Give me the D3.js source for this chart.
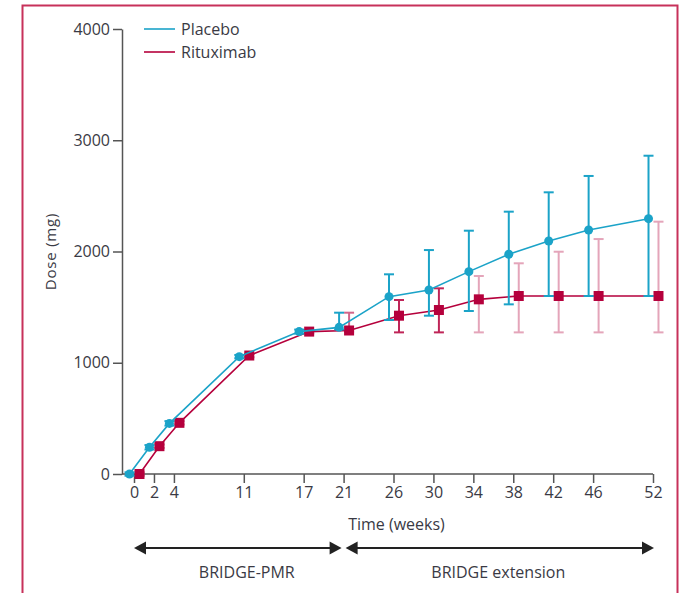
<!DOCTYPE html>
<html>
<head>
<meta charset="utf-8">
<script src="https://cdn.jsdelivr.net/npm/d3@7"></script>
<style>
  body { margin: 0; background: #fff; }
  text { font-family: "Open Sans", "DejaVu Sans", sans-serif; fill: #3a3a44; }
</style>
</head>
<body>
<svg id="viz"></svg>
<script>
let width = 681;
let height = 593;

// data
let weeks = [0, 2, 4, 11, 17, 21, 26, 30, 34, 38, 42, 46, 52];
let placeboMean = [0, 240, 455, 1055, 1280, 1318, 1594, 1654, 1819, 1975, 2094, 2193, 2295];
let placeboLow = [-15, 220, 435, 1040, 1262, 1300, 1384, 1423, 1465, 1525, 1600, 1600, 1600];
let placeboHigh = [15, 260, 475, 1070, 1298, 1450, 1795, 2013, 2187, 2358, 2532, 2679, 2861];
let rituxMean = [0, 250, 460, 1065, 1280, 1290, 1423, 1474, 1570, 1600, 1600, 1600, 1600];
let rituxLow = [-15, 235, 445, 1050, 1265, 1280, 1273, 1273, 1273, 1273, 1273, 1273, 1273];
let rituxHigh = [15, 265, 475, 1080, 1295, 1450, 1564, 1669, 1780, 1894, 1998, 2112, 2268];
let yTicks = [0, 1000, 2000, 3000, 4000];
let seriesNames = ["Placebo", "Rituximab"];
let periodNames = ["BRIDGE-PMR", "BRIDGE extension"];
let periodStart = [0, 21];
let periodEnd = [21, 52];
let periodLabelAt = [11.3, 36.5];

let blue = "#1ba3c8";
let red = "#b5003c";
let fontSize = "16px";

let svg = d3.select("#viz")
    .attr("width", width)
    .attr("height", height);

// frame
svg.append("rect")
    .attr("x", 22.5).attr("y", 5.5)
    .attr("width", 655).attr("height", 620)
    .attr("fill", "none")
    .attr("stroke", "#c7315a")
    .attr("stroke-width", 2);

let x = d3.scaleLinear().domain([0, 52]).range([134, 653]);
let y = d3.scaleLinear().domain([0, 4000]).range([474, 29]);
let axisX = 122;

// y axis
let yAxis = svg.append("g")
    .attr("transform", "translate(" + axisX + ",0)")
    .call(d3.axisLeft(y).tickValues(yTicks).tickFormat(d3.format("d"))
        .tickSize(9).tickPadding(3).tickSizeOuter(0));
yAxis.select(".domain").attr("stroke", "#555").attr("stroke-width", 1.5);
yAxis.selectAll(".tick line").attr("stroke", "#555").attr("stroke-width", 1.5);
yAxis.selectAll("text").style("font-size", fontSize).attr("fill", "#3a3a44");

// x axis
let xAxis = svg.append("g")
    .attr("transform", "translate(0," + y(0) + ")")
    .call(d3.axisBottom(x).tickValues(weeks).tickSize(9).tickPadding(4).tickSizeOuter(0));
xAxis.select(".domain")
    .attr("d", "M" + axisX + ",0H" + x(52))
    .attr("stroke", "#555").attr("stroke-width", 1.5);
xAxis.selectAll(".tick line").attr("stroke", "#555").attr("stroke-width", 1.5);
xAxis.selectAll("text").style("font-size", fontSize).attr("fill", "#3a3a44");

svg.append("text")
    .attr("x", (x(21) + x(30)) / 2 + 8)
    .attr("y", 530)
    .attr("text-anchor", "middle")
    .style("font-size", fontSize)
    .text("Time (weeks)");

svg.append("text")
    .attr("transform", "translate(56," + y(2000) + ") rotate(-90)")
    .attr("text-anchor", "middle")
    .style("font-size", "15px")
    .style("letter-spacing", "0.8px")
    .text("Dose (mg)");

function drawSeries(means, lows, highs, offset, color, shape, barOpacity) {
    let pts = weeks.map((w, i) => ({w: w + offset, m: means[i], lo: lows[i], hi: highs[i], week: w}));
    let g = svg.append("g");

    g.selectAll("g.err").data(pts).enter().append("g")
        .attr("class", "err")
        .attr("stroke", color)
        .attr("stroke-width", 2)
        .attr("opacity", d => barOpacity(d.week))
        .each(function(d) {
            let e = d3.select(this);
            e.append("line").attr("x1", x(d.w)).attr("x2", x(d.w)).attr("y1", y(d.lo)).attr("y2", y(d.hi));
            e.append("line").attr("x1", x(d.w) - 5).attr("x2", x(d.w) + 5).attr("y1", y(d.lo)).attr("y2", y(d.lo));
            e.append("line").attr("x1", x(d.w) - 5).attr("x2", x(d.w) + 5).attr("y1", y(d.hi)).attr("y2", y(d.hi));
        });

    g.append("path")
        .datum(pts)
        .attr("fill", "none")
        .attr("stroke", color)
        .attr("stroke-width", 1.6)
        .attr("d", d3.line().x(d => x(d.w)).y(d => y(d.m)));

    if (shape == "circle") {
        g.selectAll("circle").data(pts).enter().append("circle")
            .attr("cx", d => x(d.w)).attr("cy", d => y(d.m))
            .attr("r", 4.5).attr("fill", color);
    } else {
        g.selectAll("rect").data(pts).enter().append("rect")
            .attr("x", d => x(d.w) - 5).attr("y", d => y(d.m) - 5)
            .attr("width", 10).attr("height", 10).attr("fill", color);
    }
}

drawSeries(rituxMean, rituxLow, rituxHigh, 0.55, red, "square", w => w >= 34 ? 0.35 : (w == 21 ? 0.6 : 0.85));
drawSeries(placeboMean, placeboLow, placeboHigh, -0.45, blue, "circle", w => 1);

// legend
let legend = svg.append("g");
[blue, red].forEach(function(c, i) {
    legend.append("line")
        .attr("x1", 144).attr("x2", 175)
        .attr("y1", 29 + i * 23).attr("y2", 29 + i * 23)
        .attr("stroke", c).attr("stroke-width", 1.6);
    legend.append("text")
        .attr("x", 181).attr("y", 35 + i * 23)
        .style("font-size", fontSize)
        .text(seriesNames[i]);
});

// study period arrows
let arrowY = 548;
function arrowHead(tipX, dir) {
    svg.append("path")
        .attr("d", "M" + tipX + "," + arrowY + "l" + (-dir * 12) + ",-6.5v13z")
        .attr("fill", "#222");
}
periodNames.forEach(function(name, i) {
    let x0 = x(periodStart[i]) + (i == 0 ? 0 : 2);
    let x1 = x(periodEnd[i]) + (i == 0 ? -2 : 1);
    svg.append("line")
        .attr("x1", x0 + 4).attr("x2", x1 - 4)
        .attr("y1", arrowY).attr("y2", arrowY)
        .attr("stroke", "#222").attr("stroke-width", 2);
    arrowHead(x0, -1);
    arrowHead(x1, 1);
    svg.append("text")
        .attr("x", x(periodLabelAt[i]))
        .attr("y", 578)
        .attr("text-anchor", "middle")
        .style("font-size", fontSize)
        .text(name);
});
</script>
</body>
</html>
